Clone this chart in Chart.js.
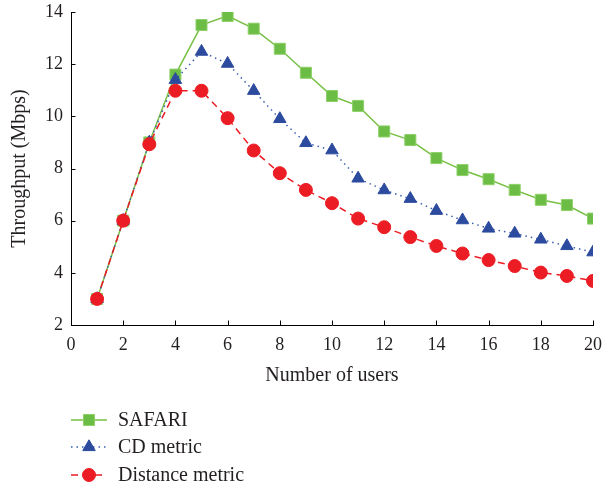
<!DOCTYPE html>
<html>
<head>
<meta charset="utf-8">
<script src="https://cdn.jsdelivr.net/npm/chart.js@4/dist/chart.umd.min.js"></script>
<style>
html,body{margin:0;padding:0;background:#fff;}
canvas{display:block;}
</style>
</head>
<body>
<canvas id="c" width="603" height="486"></canvas>
<script>
const users = [1,2,3,4,5,6,7,8,9,10,11,12,13,14,15,16,17,18,19,20];
const safari = [3.0,6.0,9.0,11.6,13.5,13.85,13.36,12.59,11.67,10.78,10.40,9.42,9.09,8.40,7.94,7.59,7.18,6.80,6.60,6.08];
const cdMetric = [3.0,6.0,9.0,11.4,12.48,12.02,10.98,9.9,8.98,8.7,7.62,7.17,6.84,6.38,6.02,5.7,5.51,5.28,5.03,4.79];
const distMetric = [3.0,6.0,8.93,10.98,10.98,9.93,8.69,7.82,7.18,6.67,6.08,5.75,5.37,5.03,4.74,4.49,4.26,4.01,3.88,3.69];
const seriesNames = ["SAFARI","CD metric","Distance metric"];
const xTitle = "Number of users";
const yTitle = "Throughput (Mbps)";
const xTicks = [0,2,4,6,8,10,12,14,16,18,20];
const yTicks = [2,4,6,8,10,12,14];

const FONT = "'Liberation Serif', 'DejaVu Serif', serif";
const TEXT = "#231f20";

const toPts = arr => users.map((u,i)=>({x:u,y:arr[i]}));

const extras = {
  id:'extras',
  afterDraw(chart){
    const ctx = chart.ctx, xs = chart.scales.x, ys = chart.scales.y;
    const a = chart.chartArea;
    ctx.save();
    ctx.strokeStyle = '#000'; ctx.lineWidth = 1;
    ctx.beginPath();
    xTicks.forEach(v=>{const px=Math.round(xs.getPixelForValue(v))+0.5; ctx.moveTo(px,a.bottom); ctx.lineTo(px,a.bottom-4.5);});
    yTicks.forEach(v=>{const py=Math.round(ys.getPixelForValue(v))+0.5; ctx.moveTo(a.left,py); ctx.lineTo(a.left+4.5,py);});
    ctx.stroke();
    ctx.fillStyle = TEXT;
    ctx.font = "20px " + FONT;
    ctx.textAlign='center'; ctx.textBaseline='middle';
    ctx.fillText(xTitle,(a.left+a.right)/2,376);
    ctx.save();
    ctx.translate(20,(a.top+a.bottom)/2);
    ctx.rotate(-Math.PI/2);
    ctx.fillText(yTitle,0,0);
    ctx.restore();
    const rows=[420,447,475];
    seriesNames.forEach((name,i)=>{
      const ds = chart.data.datasets.find(d=>d.label===name);
      const y=rows[i];
      ctx.save();
      ctx.strokeStyle=ds.borderColor; ctx.lineWidth=ds.borderWidth;
      ctx.setLineDash(ds.borderDash||[]);
      ctx.beginPath(); ctx.moveTo(71,y); ctx.lineTo(107,y); ctx.stroke();
      ctx.restore();
      ctx.save();
      ctx.setLineDash([]);
      ctx.fillStyle=ds.pointBackgroundColor; ctx.strokeStyle=ds.pointBorderColor; ctx.lineWidth=ds.pointBorderWidth||1;
      Chart.helpers.drawPoint(ctx,{pointStyle:ds.pointStyle,rotation:0,radius:ds.pointRadius,borderWidth:ds.pointBorderWidth||1},89,y);
      ctx.restore();
      ctx.fillStyle=TEXT; ctx.font="20px "+FONT; ctx.textAlign='left'; ctx.textBaseline='middle';
      ctx.fillText(ds.label,118,y+1);
    });
    ctx.restore();
  }
};

new Chart(document.getElementById('c'),{
  type:'line',
  data:{datasets:[
    {label:seriesNames[2],data:toPts(distMetric),borderColor:'#ec1c24',borderWidth:1.5,borderDash:[7,5],
     pointStyle:'circle',pointRadius:6.5,pointBackgroundColor:'#ec1c24',pointBorderColor:'#ec1c24',pointBorderWidth:1},
    {label:seriesNames[1],data:toPts(cdMetric),borderColor:'#3a5db0',borderWidth:1.5,borderDash:[1.5,4],
     pointStyle:'triangle',pointRadius:7.2,pointBackgroundColor:'#2c4b9e',pointBorderColor:'#2c4b9e',pointBorderWidth:1},
    {label:seriesNames[0],data:toPts(safari),borderColor:'#76c043',borderWidth:1.5,borderDash:[],
     pointStyle:'rect',pointRadius:7.8,pointBackgroundColor:'#6bbd45',pointBorderColor:'#8fd06a',pointBorderWidth:1}
  ]},
  options:{
    responsive:false,animation:false,
    layout:{padding:{top:12,right:10,bottom:0,left:0}},
    plugins:{legend:{display:false},tooltip:{enabled:false}},
    elements:{line:{tension:0}},
    scales:{
      x:{type:'linear',min:0,max:20,
        afterFit(s){s.height=161;s.paddingLeft=0;s.paddingRight=0;s.paddingTop=0;s.paddingBottom=0;},
        afterBuildTicks(s){s.ticks=xTicks.map(v=>({value:v}));},
        grid:{display:true,drawOnChartArea:false,drawTicks:false},
        border:{display:true,color:'#000',width:1},
        ticks:{padding:9,color:TEXT,font:{family:FONT,size:18},maxRotation:0}},
      y:{type:'linear',min:2,max:14,
        afterFit(s){s.width=71;s.paddingLeft=0;s.paddingRight=0;s.paddingTop=0;s.paddingBottom=0;},
        afterBuildTicks(s){s.ticks=yTicks.map(v=>({value:v}));},
        grid:{display:true,drawOnChartArea:false,drawTicks:false},
        border:{display:true,color:'#000',width:1},
        ticks:{padding:8,color:TEXT,font:{family:FONT,size:18}}}
    }
  },
  plugins:[extras]
});
</script>
</body>
</html>
